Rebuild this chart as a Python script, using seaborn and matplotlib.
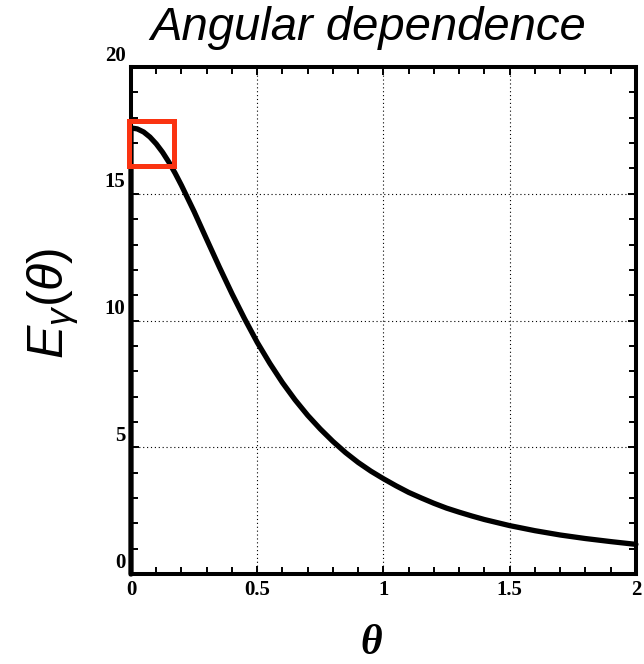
import numpy as np
import pandas as pd
import seaborn as sns
import matplotlib.pyplot as plt
import matplotlib.transforms as mtransforms
from matplotlib.patches import Rectangle
from matplotlib.ticker import MultipleLocator

# values (first point = vertical rise at theta=0)
theta = [0, 0, 0.025, 0.05, 0.075, 0.1, 0.125, 0.15, 0.175, 0.2, 0.25, 0.3,
         0.35, 0.4, 0.45, 0.5, 0.55, 0.6, 0.65, 0.7, 0.75, 0.8, 0.85, 0.9,
         0.95, 1.0, 1.05, 1.1, 1.15, 1.2, 1.25, 1.3, 1.35, 1.4, 1.5, 1.6,
         1.7, 1.8, 1.9, 2.0]
energy = [0, 17.6, 17.56, 17.44, 17.24, 16.97, 16.64, 16.25, 15.81, 15.33,
          14.30, 13.20, 12.11, 11.06, 10.07, 9.14, 8.31, 7.55, 6.87, 6.26,
          5.72, 5.23, 4.79, 4.40, 4.06, 3.76, 3.48, 3.22, 3.00, 2.79, 2.60,
          2.44, 2.29, 2.15, 1.91, 1.71, 1.54, 1.40, 1.28, 1.17]

x_ticks = [0, 0.5, 1, 1.5, 2]
x_tick_labels = ["0", "0.5", "1", "1.5", "2"]
y_ticks = [0, 5, 10, 15, 20]
y_tick_labels = ["0", "5", "10", "15", "20"]
title_text = "Angular dependence"

# highlighted box near the peak (data coords)
box_xy = (-0.008, 16.11)
box_w, box_h = 0.179, 1.78

sns.set_style("ticks")
plt.rcParams["text.color"] = "black"
plt.rcParams["xtick.labelcolor"] = "black"
plt.rcParams["ytick.labelcolor"] = "black"
plt.rcParams["mathtext.fontset"] = "custom"
plt.rcParams["mathtext.it"] = "Liberation Sans:italic"
plt.rcParams["mathtext.rm"] = "Liberation Sans"

fig = plt.figure(figsize=(6.44, 6.64), dpi=100)
ax = fig.add_axes([0.2034, 0.1355, 0.784, 0.7635])

df = pd.DataFrame({"theta": theta, "E": energy})
sns.lineplot(data=df, x="theta", y="E", estimator=None, sort=False,
             color="black", linewidth=3.8, ax=ax, clip_on=False, zorder=4,
             solid_joinstyle="round")

ax.set_xlim(0, 2)
ax.set_ylim(0, 20)
ax.set_xlabel("")
ax.set_ylabel("")

tick_font = dict(fontfamily="Liberation Serif", fontweight="bold", fontsize=15)
ax.set_xticks(x_ticks, x_tick_labels, **tick_font)
ax.set_yticks(y_ticks, y_tick_labels, **tick_font)
ax.xaxis.set_minor_locator(MultipleLocator(0.1))
ax.yaxis.set_minor_locator(MultipleLocator(1))
ax.tick_params(which="both", direction="in", top=True, right=True,
               color="black", width=1.4)
ax.tick_params(which="major", length=6, pad=4)
ax.tick_params(which="minor", length=5)

# y labels sit above their ticks in the reference
shift = mtransforms.ScaledTranslation(0, 0.14, fig.dpi_scale_trans)
for lab in ax.get_yticklabels():
    lab.set_transform(lab.get_transform() + shift)

ax.grid(True, which="major", color="black", linestyle=(0, (1, 2.5)),
        linewidth=0.8)

for sp in ax.spines.values():
    sp.set_linewidth(2.9)
    sp.set_color("black")

ax.add_patch(Rectangle(box_xy, box_w, box_h, fill=False, edgecolor="#fa3311",
                       linewidth=3.6, clip_on=False, zorder=6))

fig.text(368 / 644, 1 - 28 / 664, title_text, family="Liberation Sans",
         style="italic", fontsize=34, ha="center", va="center")
fig.text(53 / 644, 1 - 303 / 664, r"$E_{\gamma}(\theta)$", rotation=90,
         fontsize=36, ha="center", va="center")
fig.text(371 / 644, 1 - 644 / 664, "θ", family="Liberation Serif",
         style="italic", fontweight="bold", fontsize=30, ha="center",
         va="center")

fig.savefig("out.png", dpi=100)
